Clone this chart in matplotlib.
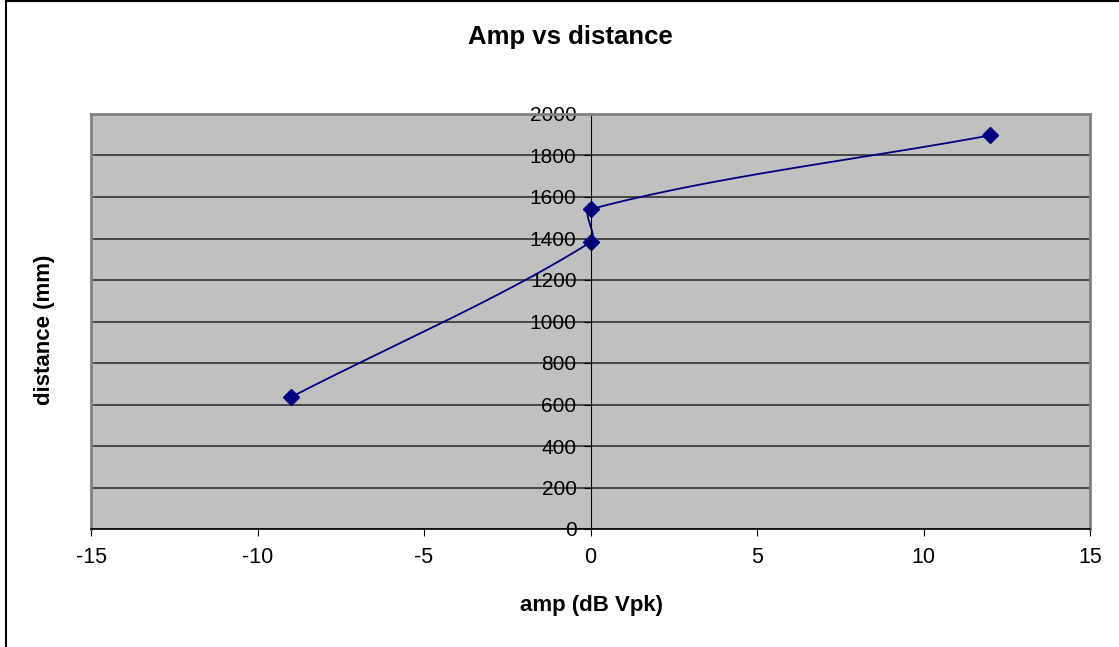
import numpy as np
import matplotlib.pyplot as plt
from matplotlib.lines import Line2D

# data
amp = [-9, 0, 0, 12]
distance = [635, 1382, 1541, 1897]

x_ticks = [-15, -10, -5, 0, 5, 10, 15]
y_ticks = [0, 200, 400, 600, 800, 1000, 1200, 1400, 1600, 1800, 2000]

XLIM = (-15, 15)
YLIM = (0, 2000)
AX_W, AX_H = 999, 415  # plot area in pixels


def smooth(xs, ys, n=60):
    # Excel style smoothed line: bezier segments, handles scaled by chord lengths
    # (worked out in pixel space so short segments get short handles)
    px = (np.asarray(xs, float) - XLIM[0]) / (XLIM[1] - XLIM[0]) * AX_W
    py = (np.asarray(ys, float) - YLIM[0]) / (YLIM[1] - YLIM[0]) * AX_H
    p = np.column_stack([px, py])
    m = len(p)
    d = np.linalg.norm(np.diff(p, axis=0), axis=1)
    t = np.linspace(0, 1, n)[:, None]
    out = []
    for i in range(m - 1):
        p1, p2 = p[i], p[i + 1]
        if i > 0:
            c1 = p1 + (p2 - p[i - 1]) * d[i] / (d[i - 1] + d[i]) / 3
        else:
            c1 = p1 + (p2 - p1) / 3
        if i + 2 < m:
            c2 = p2 - (p[i + 2] - p1) * d[i] / (d[i] + d[i + 1]) / 3
        else:
            c2 = p2 - (p2 - p1) / 3
        seg = ((1 - t) ** 3) * p1 + 3 * ((1 - t) ** 2) * t * c1 + 3 * (1 - t) * t ** 2 * c2 + t ** 3 * p2
        out.append(seg)
    out = np.vstack(out)
    sx = out[:, 0] / AX_W * (XLIM[1] - XLIM[0]) + XLIM[0]
    sy = out[:, 1] / AX_H * (YLIM[1] - YLIM[0]) + YLIM[0]
    return sx, sy


plt.rcParams['font.family'] = ['Liberation Sans', 'DejaVu Sans']

fig = plt.figure(figsize=(11.19, 6.47), dpi=100)
ax = fig.add_axes([91 / 1119, 1 - 529 / 647, AX_W / 1119, AX_H / 647])

ax.set_facecolor('#c0c0c0')
ax.spines['left'].set_position(('data', 0))
ax.set_xlim(*XLIM)
ax.set_ylim(*YLIM)
ax.set_xticks(x_ticks)
ax.set_yticks(y_ticks)
ax.set_xticklabels([str(v) for v in x_ticks])
ax.set_yticklabels([str(v) for v in y_ticks])

ax.grid(axis='y', color='#333333', linewidth=1.2)
ax.set_axisbelow(True)

for s in ['top', 'right']:
    ax.spines[s].set_color('#808080')
    ax.spines[s].set_linewidth(2)
ax.spines['left'].set_color('black')
ax.spines['bottom'].set_color('black')
ax.spines['bottom'].set_linewidth(1.2)
ax.tick_params(axis='x', direction='out', length=5, pad=8, color='black', labelsize=15.5)
ax.tick_params(axis='y', direction='out', length=5, pad=5, color='black', labelsize=15)

# left border of plot area (the y axis sits at x = 0)
ax.add_line(Line2D([0, 0], [0, 1], transform=ax.transAxes, color='#808080', linewidth=2, clip_on=False))

sx, sy = smooth(amp, distance)
ax.plot(sx, sy, color='#000080', linewidth=1.3)
ax.plot(amp, distance, linestyle='none', marker='D', markersize=8, color='#000080')

fig.text(570 / 1119, 1 - 37 / 647, 'Amp vs distance', ha='center', va='center', fontsize=18.5, fontweight='bold')
fig.text(592 / 1119, 1 - 606 / 647, 'amp (dB Vpk)', ha='center', va='center', fontsize=16, fontweight='bold')
fig.text(45 / 1119, 1 - 330 / 647, 'distance (mm)', ha='center', va='center', rotation=90, fontsize=16, fontweight='bold')

# outer chart frame (left and top visible)
fig.add_artist(Line2D([6 / 1119, 6 / 1119], [0, 1 - 1 / 647], transform=fig.transFigure, color='black', linewidth=1.5))
fig.add_artist(Line2D([6 / 1119, 1], [1 - 1 / 647, 1 - 1 / 647], transform=fig.transFigure, color='black', linewidth=1.5))

fig.savefig('out.png', dpi=100)
